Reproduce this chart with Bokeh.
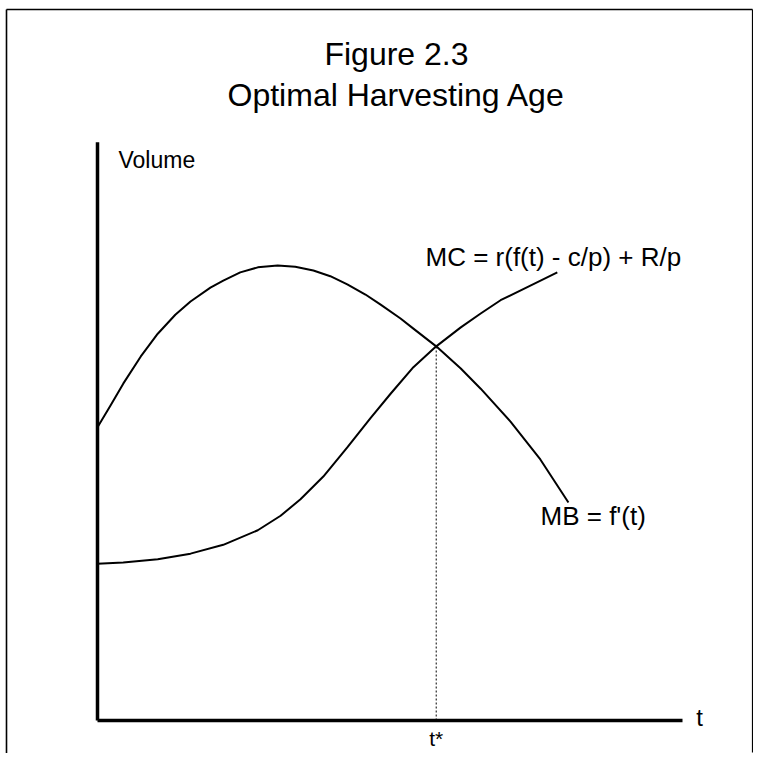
from bokeh.plotting import figure
from bokeh.models import Range1d
from bokeh.core.properties import value
from bokeh.embed import file_html
from bokeh.resources import INLINE

# ---- data (conceptual units: t = age, v = volume) ----
mb_t = [0.00, 0.22, 0.44, 0.74, 1.03, 1.33, 1.59, 1.93, 2.15, 2.44, 2.74, 3.08, 3.38,
        3.69, 3.98, 4.27, 4.58, 4.84, 5.18, 5.40, 5.79, 6.21, 6.55, 7.06, 7.57, 8.05]
mb_v = [4.64, 4.98, 5.33, 5.76, 6.12, 6.42, 6.63, 6.85, 6.96, 7.09, 7.17, 7.20, 7.18,
        7.12, 7.03, 6.90, 6.74, 6.58, 6.36, 6.20, 5.92, 5.57, 5.25, 4.73, 4.13, 3.45]

mc_t = [0.00, 0.44, 1.03, 1.59, 2.15, 2.74, 3.13, 3.47, 3.86, 4.27, 4.67, 5.01, 5.40,
        5.79, 6.21, 6.55, 6.89, 7.40, 7.86]
mc_v = [2.48, 2.50, 2.55, 2.64, 2.78, 3.01, 3.24, 3.50, 3.86, 4.32, 4.79, 5.17, 5.59,
        5.92, 6.22, 6.44, 6.65, 6.88, 7.09]

t_star = 5.79
v_star = 5.92
t_axis_max = 10.0
v_axis_max = 9.15

title_lines = ["Figure 2.3", "Optimal Harvesting Age"]
y_label = "Volume"
x_label = "t"
t_star_label = "t*"
mc_label = "MC = r(f(t) - c/p) + R/p"
mb_label = "MB = f'(t)"

# ---- pixel <-> data helpers (layout only) ----
X0, SX = 97.0, 58.5
Y0, SY = 720.0, 63.2


def dx(px):
    return (px - X0) / SX


def dy(py):
    return (Y0 - py) / SY


W = H = 753
p = figure(width=W, height=H, output_backend="svg", toolbar_location=None,
           x_range=Range1d(dx(0), dx(W)), y_range=Range1d(dy(H), dy(0)),
           min_border=0)
p.axis.visible = False
p.grid.visible = False
p.outline_line_color = None
p.background_fill_color = "white"
p.border_fill_color = "white"

FONT = value("Liberation Sans")

# frame
p.line([dx(6), dx(6)], [dy(H), dy(9)], line_color="black", line_width=1.6)
p.line([dx(6), dx(752)], [dy(9), dy(9)], line_color="black", line_width=1.6)
p.line([dx(752), dx(752)], [dy(9), dy(752)], line_color="black", line_width=1.2)

# axes
p.line([0, 0], [0, v_axis_max], line_color="black", line_width=3.5)
p.line([0, t_axis_max], [0, 0], line_color="black", line_width=3.5)

# dotted guide
p.line([t_star, t_star], [0, v_star], line_color="black", line_width=1, line_dash="2 2")

# curves
p.line(mb_t, mb_v, line_color="black", line_width=2, line_join="round")
p.line(mc_t, mc_v, line_color="black", line_width=2, line_join="round")

# title
p.text(x=[dx(396)] * 2, y=[dy(53), dy(94)], text=title_lines, text_font=FONT,
       text_font_size="32px", text_align="center", text_baseline="middle",
       text_color="black")

# labels
p.text(x=[dx(118)], y=[dy(159)], text=[y_label], text_font=FONT, text_font_size="23px",
       text_baseline="middle", text_color="black")
p.text(x=[dx(699)], y=[dy(717)], text=[x_label], text_font=FONT, text_font_size="24px",
       text_align="center", text_baseline="middle", text_color="black")
p.text(x=[t_star], y=[dy(738)], text=[t_star_label], text_font=FONT, text_font_size="21px",
       text_align="center", text_baseline="middle", text_color="black")
p.text(x=[dx(425)], y=[dy(256)], text=[mc_label], text_font=FONT, text_font_size="26px",
       text_baseline="middle", text_color="black")
p.text(x=[dx(540)], y=[dy(515)], text=[mb_label], text_font=FONT, text_font_size="26px",
       text_baseline="middle", text_color="black")

open("out.html", "w").write(file_html(p, INLINE))
